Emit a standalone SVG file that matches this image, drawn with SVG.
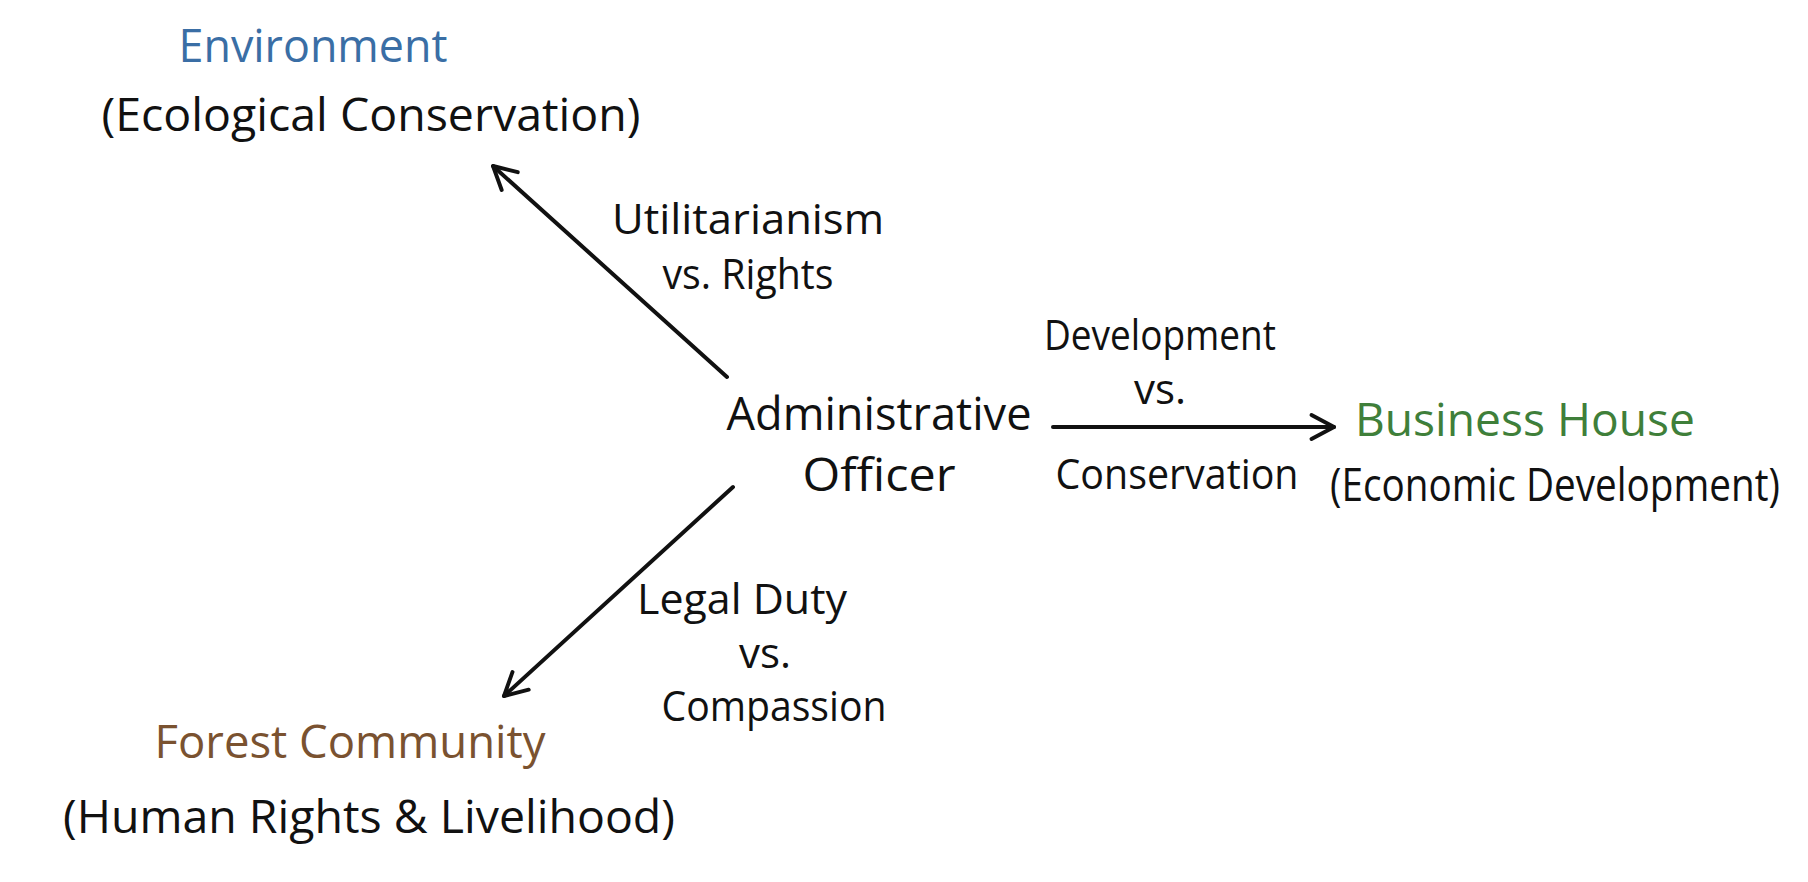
<svg xmlns="http://www.w3.org/2000/svg" width="1808" height="882" viewBox="0 0 1808 882">
<style>
text{font-family:"Open Sans","Liberation Sans",sans-serif;font-size:42px;fill:#111;text-anchor:middle}
.t{font-size:46px}
.c{stroke:#111;stroke-width:4;fill:none;stroke-linecap:round}
</style>
<defs><marker id="a" viewBox="0 0 20 20" refX="18" refY="10" markerWidth="30" markerHeight="30" markerUnits="userSpaceOnUse" orient="auto"><path d="M3,2 L18,10 L3,18" fill="none" stroke="#111" stroke-width="2.6" stroke-linecap="round" stroke-linejoin="round"/></marker></defs>
<rect width="1808" height="882" fill="#fff"/>
<g id="connectors">
<line class="c" x1="727" y1="377" x2="493" y2="166" marker-end="url(#a)"/>
<line class="c" x1="1053" y1="427" x2="1334" y2="427" marker-end="url(#a)"/>
<line class="c" x1="733" y1="487" x2="504" y2="696" marker-end="url(#a)"/>
<text x="748" y="234" textLength="272" lengthAdjust="spacingAndGlyphs">Utilitarianism</text>
<text x="748" y="289" textLength="171" lengthAdjust="spacingAndGlyphs">vs. Rights</text>
<text x="1160" y="350" textLength="232" lengthAdjust="spacingAndGlyphs">Development</text>
<text x="1160" y="404">vs.</text>
<text x="1177" y="489" textLength="243" lengthAdjust="spacingAndGlyphs">Conservation</text>
<text x="742" y="614" textLength="210" lengthAdjust="spacingAndGlyphs">Legal Duty</text>
<text x="765" y="668">vs.</text>
<text x="774" y="721" textLength="225" lengthAdjust="spacingAndGlyphs">Compassion</text>
</g>
<g id="officer">
<text x="879" y="430" class="t" textLength="305" lengthAdjust="spacingAndGlyphs">Administrative</text>
<text x="879" y="491" class="t" textLength="153" lengthAdjust="spacingAndGlyphs">Officer</text>
</g>
<g id="environment">
<text x="313" y="62" class="t" style="fill:#3a6ea5" textLength="269" lengthAdjust="spacingAndGlyphs">Environment</text>
<text x="371" y="131" class="t" textLength="539" lengthAdjust="spacingAndGlyphs">(Ecological Conservation)</text>
</g>
<g id="business">
<text x="1525" y="436" class="t" style="fill:#3f7f3a" textLength="340" lengthAdjust="spacingAndGlyphs">Business House</text>
<text x="1555" y="501" class="t" textLength="450" lengthAdjust="spacingAndGlyphs">(Economic Development)</text>
</g>
<g id="forest">
<text x="350" y="758" class="t" style="fill:#7a5230" textLength="391" lengthAdjust="spacingAndGlyphs">Forest Community</text>
<text x="369" y="833" class="t" textLength="612" lengthAdjust="spacingAndGlyphs">(Human Rights &amp; Livelihood)</text>
</g>
</svg>
